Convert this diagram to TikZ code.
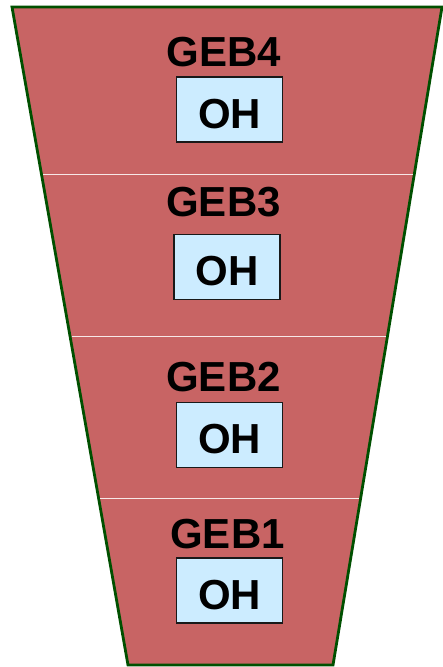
\documentclass[tikz,border=0pt]{standalone}
\usepackage{fontspec}
\setmainfont{Liberation Sans}
\usetikzlibrary{calc}
\definecolor{funnelred}{RGB}{200,100,100}
\definecolor{funnelgreen}{RGB}{0,80,0}
\definecolor{boxblue}{RGB}{204,236,255}
\tikzset{
  gebtitle/.style={font=\bfseries\fontsize{42}{42}\selectfont, inner sep=0pt},
  ohbox/.style={draw=black!90, line width=1.5pt, fill=boxblue, minimum width=106pt,
    minimum height=65pt, inner sep=0pt, text height=37pt, text depth=0pt,
    font=\bfseries\fontsize{42}{42}\selectfont},
  divider/.style={draw=white!85!funnelred, line width=1pt}
}
\begin{document}
\begin{tikzpicture}[x=1pt,y=-1pt]
\useasboundingbox (0,0) rectangle (443,667);
\coordinate (tl) at (12,7);
\coordinate (tr) at (442,7);
\coordinate (br) at (333,665);
\coordinate (bl) at (128,665);
\filldraw[fill=funnelred, draw=funnelgreen, line width=2.8pt, line join=miter]
  (tl) -- (tr) -- (br) -- (bl) -- cycle;
% layer separators
\foreach \t in {0.2553,0.5015,0.7477}
  \draw[divider] ($(tl)!\t!(bl)+(1.5,0)$) -- ($(tr)!\t!(br)+(-1.5,0)$);
% layers
\node[gebtitle] (g4) at (224,52) {GEB4};
\node[ohbox] (oh4) at (229.5,109.5) {OH};
\node[gebtitle] (g3) at (223.5,202) {GEB3};
\node[ohbox] (oh3) at (227,267) {OH};
\node[gebtitle] (g2) at (223.5,377) {GEB2};
\node[ohbox] (oh2) at (229.5,435) {OH};
\node[gebtitle] (g1) at (227.5,534.5) {GEB1};
\node[ohbox] (oh1) at (229.5,590.5) {OH};
\end{tikzpicture}
\end{document}
